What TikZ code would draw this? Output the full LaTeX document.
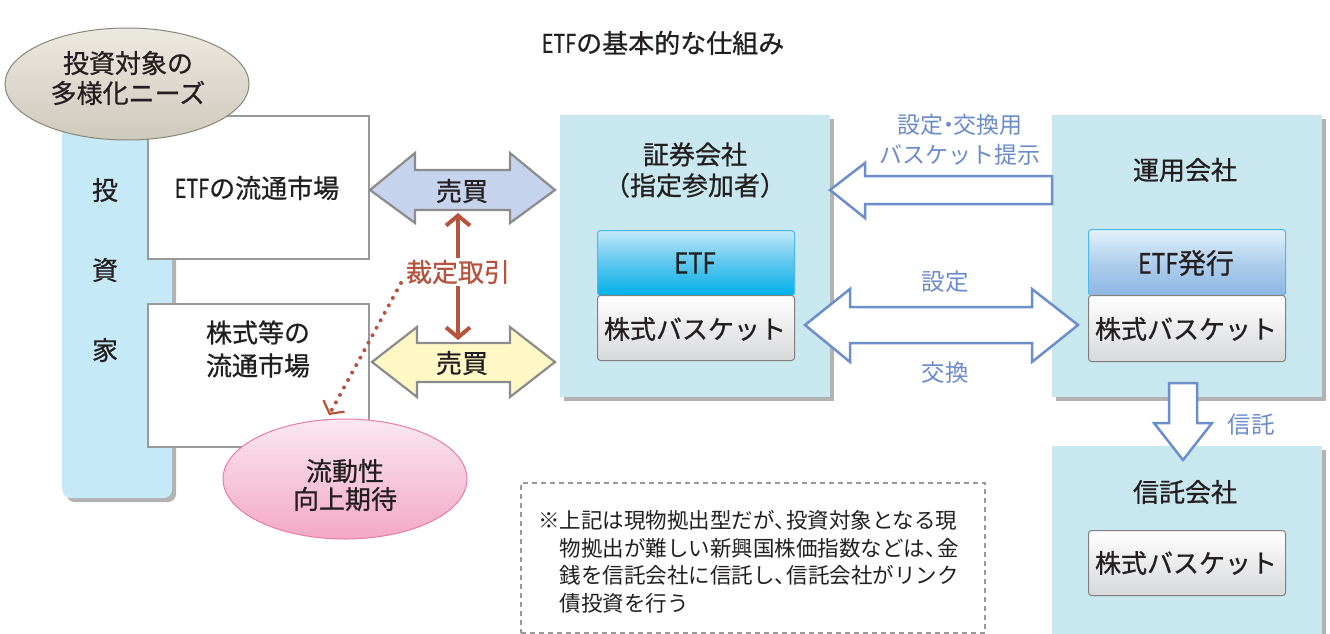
\documentclass[tikz,border=0pt]{standalone}
\usepackage{fontspec}
\usepackage{graphicx}
\setmainfont{Noto Sans CJK JP}[BoldFont=Noto Sans CJK JP,BoldFeatures={FakeBold=0.7}]
\newfontfamily\lightfont{Noto Sans CJK JP}
\usetikzlibrary{shapes.geometric,shadows,arrows.meta,calc}
\newcommand\etfw{\scalebox{0.76}[1]{ETF}}
\definecolor{txt}{HTML}{231F20}
\definecolor{panelc}{HTML}{C8E7EE}
\definecolor{invc}{HTML}{C6E9F8}
\definecolor{bluetx}{HTML}{6B8BC9}
\definecolor{bluebd}{HTML}{6C8FCB}
\definecolor{buyblue}{HTML}{C6D3EC}
\definecolor{buyyel}{HTML}{FEF8C4}
\definecolor{arbred}{HTML}{B4533E}
\definecolor{beigeT}{HTML}{ECE9E1}
\definecolor{beigeB}{HTML}{CFC9BC}
\definecolor{beigeD}{HTML}{8A8577}
\definecolor{pinkT}{HTML}{FAE8F0}
\definecolor{pinkB}{HTML}{F3A8C4}
\definecolor{pinkD}{HTML}{E97BA7}
\definecolor{etfT}{HTML}{C3E9FA}
\definecolor{etfM}{HTML}{5CC6EF}
\definecolor{etfB}{HTML}{00B0E8}
\definecolor{etfD}{HTML}{4AB8E8}
\definecolor{issT}{HTML}{E3F2FB}
\definecolor{issB}{HTML}{8DB6E2}
\definecolor{basB}{HTML}{D7D8DA}
\tikzset{
  lbl/.style={text=txt,font=\bfseries\fontsize{26}{32}\selectfont,align=center,inner sep=0pt},
  bluelbl/.style={text=bluetx,font=\lightfont\fontsize{23.5}{30}\selectfont,align=center,inner sep=0pt},
  panel/.style={fill=panelc,draw=none,anchor=north west,inner sep=0pt,
    drop shadow={shadow xshift=4pt,shadow yshift=-4pt,fill=black!55,opacity=0.55}},
  market/.style={fill=white,draw=black!40,line width=2pt,anchor=north west,inner sep=0pt},
  fat/.style={fill=white,draw=bluebd,line width=2.5pt,line join=miter},
  buyarrow/.style={draw=black!45,line width=2.2pt,line join=miter},
  etfbox/.style={rounded corners=3pt,draw=etfD,line width=1pt,top color=etfT,bottom color=etfB,middle color=etfM,anchor=north west,inner sep=0pt},
  issbox/.style={rounded corners=3pt,draw=etfD,line width=1pt,top color=issT,bottom color=issB,middle color=issB!60!issT,anchor=north west,inner sep=0pt},
  basbox/.style={rounded corners=3pt,draw=black!50,line width=1pt,top color=white,bottom color=basB,anchor=north west,inner sep=0pt},
}
\begin{document}
\begin{tikzpicture}[x=1pt,y=-1pt]
\useasboundingbox[fill=white] (0,0) rectangle (1330,634);
% title
\node[lbl] (title) at (663,43) {\etfw の基本的な仕組み};
% investor bar
\node[fill=invc,rounded corners=9pt,anchor=north west,inner sep=0pt,minimum width=110pt,minimum height=383pt,
  drop shadow={shadow xshift=4pt,shadow yshift=-4pt,fill=black!55,opacity=0.55}] (inv) at (62,115) {};
\node[lbl] (inv1) at (105,190) {投};
\node[lbl] (inv2) at (105,270) {資};
\node[lbl] (inv3) at (105,350) {家};
% market boxes
\node[market,minimum width=221pt,minimum height=143pt] (mkt1) at (147,115) {};
\node[lbl] (mkt1t) at (257,188) {\etfw の流通市場};
\node[market,minimum width=221pt,minimum height=143pt] (mkt2) at (147,303) {};
\node[lbl,font=\bfseries\fontsize{26}{33}\selectfont] (mkt2t) at (258,349) {株式等の\\流通市場};
% top ellipse
\node[ellipse,draw=beigeD,line width=1pt,top color=beigeT,bottom color=beigeB,minimum width=244pt,minimum height=112pt,inner sep=0pt] (need) at (127,84) {};
\node[lbl,font=\bfseries\fontsize{26}{30}\selectfont] (needt) at (128,78) {投資対象の\\多様化ニーズ};
% pink ellipse
\node[ellipse,draw=pinkD,line width=1pt,top color=pinkT,bottom color=pinkB,minimum width=244pt,minimum height=120pt,inner sep=0pt] (liq) at (345,479) {};
\node[lbl,font=\bfseries\fontsize{26}{28}\selectfont] (liqt) at (345,485) {流動性\\向上期待};
% buy/sell arrows
\draw[buyarrow,fill=buyblue] (370,190) -- (415,153) -- (415,170) -- (510,170) -- (510,153) -- (555,190)
  -- (510,223) -- (510,210) -- (415,210) -- (415,223) -- cycle;
\node[lbl] (buy1) at (462,191) {売買};
\draw[buyarrow,fill=buyyel] (372,362) -- (417,327) -- (417,343) -- (510,343) -- (510,327) -- (555,362)
  -- (510,397) -- (510,382) -- (417,382) -- (417,397) -- cycle;
\node[lbl] (buy2) at (462,363) {売買};
% arbitrage arrow
\coordinate (arbtop) at (458,213);
\coordinate (arbbot) at (458,340);
\draw[arbred,line width=4pt,{Straight Barb[length=10pt,width=24pt,line width=4pt]}-{Straight Barb[length=10pt,width=24pt,line width=4pt]}] (arbtop) -- (arbbot);
\node[lbl,text=arbred,fill=white,inner sep=2pt] (arb) at (458,272) {裁定取引};
\coordinate (liqtip) at (329,415);
\draw[arbred,line width=4pt,line cap=round,dash pattern=on 0pt off 8.5pt,
  -{Straight Barb[length=9pt,width=24pt,line width=2.2pt]}] (401,283) -- (liqtip);
% securities company
\node[panel,minimum width=270pt,minimum height=282pt] (sec) at (560,115) {};
\node[lbl,font=\bfseries\fontsize{26}{31}\selectfont] (sect) at (695,170) {証券会社\\{\kern-0.5em（}指定参加者{）\kern-0.5em}};
\node[etfbox,minimum width=197pt,minimum height=65pt] (secetf) at (597,230) {};
\node[lbl,font=\bfseries\fontsize{29}{32}\selectfont] (secetft) at (695,263) {\scalebox{0.82}[1]{ETF}};
\node[basbox,minimum width=197pt,minimum height=65pt] (secbas) at (597,295) {};
\node[lbl] (secbast) at (695,329) {株式バスケット};
% management company
\node[panel,minimum width=270pt,minimum height=282pt] (mgmt) at (1052,115) {};
\node[lbl] (mgmtt) at (1185,170) {運用会社};
\node[issbox,minimum width=197pt,minimum height=66pt] (iss) at (1088,229) {};
\node[lbl,font=\bfseries\fontsize{28}{32}\selectfont] (isst) at (1186,263) {\scalebox{0.82}[1]{ETF}発行};
\node[basbox,minimum width=197pt,minimum height=66pt] (mgbas) at (1088,295) {};
\node[lbl] (mgbast) at (1186,329) {株式バスケット};
% trust company
\node[panel,minimum width=270pt,minimum height=200pt] (trust) at (1052,446) {};
\node[lbl] (trustt) at (1185,492) {信託会社};
\node[basbox,minimum width=197pt,minimum height=65pt] (trbas) at (1088,530) {};
\node[lbl] (trbast) at (1186,563) {株式バスケット};
% basket presentation arrow
\draw[fat] (mgmt.north west |- 0,176) -- (865,176) -- (865,163) -- (830,190) -- (865,218) -- (865,204) -- (mgmt.north west |- 0,204) -- cycle;
\node[bluelbl,font=\lightfont\fontsize{23}{30}\selectfont] (pres) at (960,140) {設定{\kern-0.3em・\kern-0.3em}交換用\\バスケット提示};
% creation/exchange arrow
\draw[fat] (805,325) -- (850,289) -- (850,307) -- (1032,307) -- (1032,289) -- (1078,325) -- (1032,362)
  -- (1032,343) -- (850,343) -- (850,362) -- cycle;
\node[bluelbl] (cre) at (945,282) {設定};
\node[bluelbl] (exch) at (945,373) {交換};
% trust arrow
\draw[fat] (1169,383) -- (1197,383) -- (1197,423) -- (1212,423) -- (1183,460) -- (1154,423) -- (1169,423) -- cycle;
\node[bluelbl] (trl) at (1251,425) {信託};
% note
\node[draw=black!40,line width=1.5pt,dash pattern=on 5pt off 4pt,anchor=north west,minimum width=464pt,minimum height=150pt,inner sep=0pt] (note) at (520,482) {};
\node[text=txt,font=\lightfont\fontsize{21.5}{27.5}\selectfont,align=left,anchor=west,inner sep=0pt] (notet) at (538,562)
  {※上記は現物拠出型だが、\kern-0.45em 投資対象となる現\\
   \phantom{※}物拠出が難しい新興国株価指数などは、\kern-0.45em 金\\
   \phantom{※}銭を信託会社に信託し、\kern-0.45em 信託会社がリンク\\
   \phantom{※}債投資を行う};
\end{tikzpicture}
\end{document}
